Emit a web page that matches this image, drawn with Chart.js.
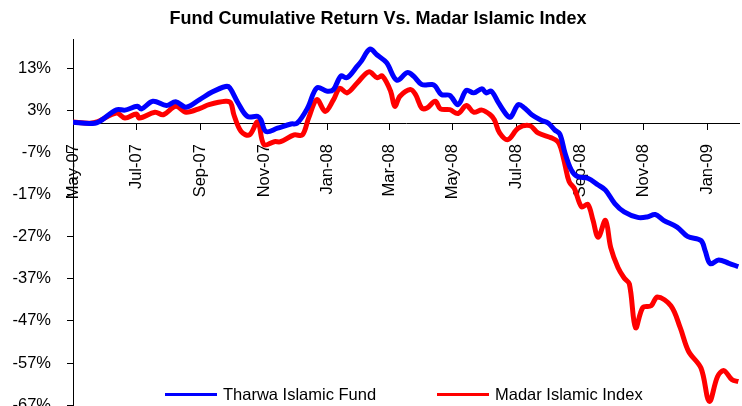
<!DOCTYPE html>
<html>
<head>
<meta charset="utf-8">
<title>Fund Cumulative Return Vs. Madar Islamic Index</title>
<script src="https://cdn.jsdelivr.net/npm/chart.js@4.4.1/dist/chart.umd.min.js"></script>
<style>
html,body{margin:0;padding:0;background:#fff;overflow:hidden;}
#wrap{position:relative;width:742px;height:406px;overflow:hidden;font-family:Arial,"Liberation Sans",sans-serif;color:#000;}
#chart{position:absolute;left:0;top:0;}
#title{position:absolute;left:0;top:8px;width:756px;text-align:center;font-weight:bold;font-size:18px;}
.legend{position:absolute;top:384px;font-size:16.5px;line-height:20px;display:flex;align-items:center;}
.legend i{display:inline-block;width:52px;height:3px;margin-right:6px;}
</style>
</head>
<body>
<div id="wrap">
  <canvas id="chart" width="742" height="431"></canvas>
  <div id="title">Fund Cumulative Return Vs. Madar Islamic Index</div>
  <div class="legend" style="left:165px"><i style="background:#0000ff"></i>Tharwa Islamic Fund</div>
  <div class="legend" style="left:437px"><i style="background:#ff0000"></i>Madar Islamic Index</div>
</div>
<script>
// days counted from 1 May 2007, values in %
const fundDays = [0,16,24,42,50,62,66,77,90,99,109,122,134,147,151,159,168,178,181,186,197,210,216,226,235,245,251,258,264,274,278,286,293,302,312,322,328,336,346,349,355,363,371,379,386,394,398,403,410,419,422,429,435,442,451,458,464,469,474,480,486,496,506,513,522,531,544,553,561,569,582,592,605,609,614,622,632,641];
const fundValues = [0.2,-0.1,0.2,3.2,3.1,4.0,3.4,5.2,4.2,5.1,3.8,5.6,7.4,8.7,8.4,4.8,1.6,1.6,0.8,-2.0,-1.2,-0.2,0.0,3.6,8.4,7.6,8.0,11.2,10.8,13.6,14.8,17.6,16.2,14.4,10.2,12.0,11.2,9.2,9.2,8.8,6.8,6.6,4.4,7.8,7.2,8.2,7.2,7.6,4.8,1.6,1.5,4.4,3.6,2.0,0.7,0.0,-1.6,-2.6,-7.1,-11.1,-12.7,-13.1,-14.7,-15.9,-19.1,-21.1,-22.4,-22.3,-21.7,-23.1,-24.7,-26.9,-27.9,-30.3,-33.4,-32.5,-33.3,-34.1];

const indexDays = [0,16,24,42,50,61,64,79,87,99,109,123,131,147,152,155,162,170,178,184,194,200,213,221,227,235,243,251,257,264,274,285,293,298,306,310,315,325,330,336,341,349,354,363,371,379,386,394,402,406,411,419,429,440,448,461,467,470,474,478,483,490,496,501,506,513,518,525,531,536,542,549,557,563,576,585,593,605,613,621,627,635,641];
const indexValues = [0.3,0.0,0.4,2.4,1.2,2.2,1.2,2.6,2.0,4.0,2.6,3.6,4.4,5.2,4.8,2.0,-2.0,-2.8,0.3,-5.1,-4.4,-4.4,-2.8,-2.8,1.2,5.6,2.8,5.6,8.3,7.2,9.6,12.2,10.8,11.2,7.6,4.0,6.4,8.0,6.8,3.6,3.6,5.2,3.4,3.2,2.3,4.2,2.6,3.1,2.0,0.8,-2.3,-3.9,-1.2,-0.6,-2.3,-3.5,-4.4,-5.9,-9.9,-13.9,-15.5,-19.9,-19.3,-23.1,-27.1,-23.1,-29.5,-34.3,-36.8,-38.2,-48.6,-43.8,-43.4,-41.3,-43.4,-48.6,-54.2,-58.2,-66.1,-60.2,-58.8,-61.0,-61.4];

const tickDays = [0,61,123,184,245,305,366,427,489,550,611];
const tickLabels = ['May-07','Jul-07','Sep-07','Nov-07','Jan-08','Mar-08','May-08','Jul-08','Sep-08','Nov-08','Jan-09'];
const yTicks = [13,3,-7,-17,-27,-37,-47,-57,-67];

Chart.defaults.font.family = 'Arial, "Liberation Sans", sans-serif';
Chart.defaults.color = '#000';

const toPoints = (days, vals) => days.map((d,i)=>({x:d, y:vals[i]}));

new Chart(document.getElementById('chart').getContext('2d'), {
  type: 'line',
  data: {
    datasets: [
      {label:'Tharwa Islamic Fund', data: toPoints(fundDays, fundValues), borderColor:'#0000ff', borderWidth:5, pointRadius:0, tension:0.35, fill:false},
      {label:'Madar Islamic Index', data: toPoints(indexDays, indexValues), borderColor:'#ff0000', borderWidth:5, pointRadius:0, tension:0.35, fill:false}
    ]
  },
  options: {
    responsive: false,
    animation: false,
    layout: {padding: {top:39, right:0, bottom:13, left:0}},
    plugins: {legend:{display:false}, title:{display:false}, tooltip:{enabled:false}},
    scales: {
      x: {
        type: 'linear',
        position: {y: 0},
        min: 0, max: 642,
        afterBuildTicks: s => { s.ticks = tickDays.map(v=>({value:v})); },
        ticks: {
          autoSkip: false, maxRotation: 90, minRotation: 90, padding: 15,
          font: {size: 16.5},
          callback: v => tickLabels[tickDays.indexOf(v)]
        },
        grid: {drawOnChartArea:false, tickLength:6, color:'#000', tickColor:'#000'},
        border: {color:'#000', width:1}
      },
      y: {
        min: -67, max: 20,
        afterBuildTicks: s => { s.ticks = yTicks.map(v=>({value:v})); },
        afterFit: s => { s.width = 73; },
        ticks: {padding: 16, font:{size:16.5}, callback: v => v + '%'},
        grid: {drawOnChartArea:false, tickLength:6, color:'#000', tickColor:'#000'},
        border: {color:'#000', width:1}
      }
    }
  }
});
</script>
</body>
</html>
